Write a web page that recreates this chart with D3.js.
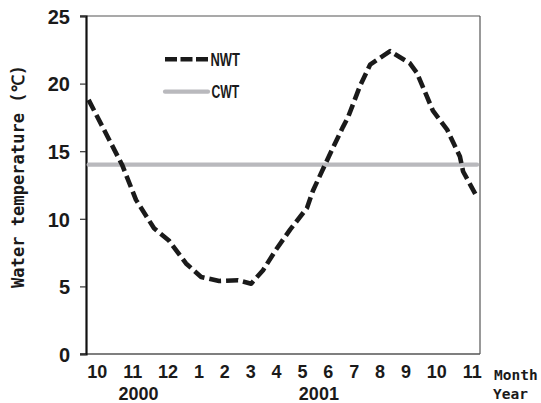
<!DOCTYPE html>
<html><head><meta charset="utf-8">
<script src="https://cdn.jsdelivr.net/npm/d3@7"></script>
<style>
html,body{margin:0;padding:0;background:#fff;}
svg{display:block;}
.num{font-family:"Liberation Sans Narrow","Liberation Sans","Arial Narrow",sans-serif;font-weight:bold;fill:#1a1a1a;}
.mono{font-family:"DejaVu Sans Mono","Liberation Mono",monospace;font-weight:bold;fill:#1a1a1a;}
</style>
</head><body>
<svg id="c" width="541" height="403"></svg>
<script>
// ---- data ----
const monthLabels = ["10","11","12","1","2","3","4","5","6","7","8","9","10","11"];
const yearLabels = ["2000","2001"];
const yearPos = [1.5, 7.7];          // in month-index units
const yTicks = [0,5,10,15,20,25];
const tMonth = [-0.22,0.93,1.41,2.03,2.54,3.13,3.65,4.27,4.92,5.37,5.78,6.22,6.71,7.29,7.50,7.91,8.15,8.53,8.70,9.11,9.46,10.15,10.83,11.07,11.62,12.11,12.55,12.66,13.14];
const nwt = [18.8,14.0,11.4,9.3,8.4,6.7,5.7,5.4,5.45,5.2,6.2,7.7,9.2,10.8,12.1,14.0,15.1,16.8,17.5,19.8,21.4,22.4,21.5,20.8,18.0,16.6,14.6,13.5,11.6];
const cwt = [14,14,14,14,14,14,14,14,14,14,14,14,14,14,14,14,14,14,14,14,14,14,14,14,14,14,14,14,14];
const seriesNames = ["NWT","CWT"];

// ---- layout ----
const svg = d3.select("#c");
const L = 86, R = 480, T = 16, B = 354;
const x = d3.scaleLinear().domain([0,13]).range([95,473]);
const y = d3.scaleLinear().domain([0,25]).range([B,T]);

// frame: top and right borders
svg.append("line").attr("x1",80).attr("x2",R).attr("y1",T).attr("y2",T).attr("stroke","#555").attr("stroke-width",1.2);
svg.append("line").attr("x1",R).attr("x2",R).attr("y1",T).attr("y2",B).attr("stroke","#555").attr("stroke-width",1.2);
// bottom axis line
svg.append("line").attr("x1",80).attr("x2",R).attr("y1",B).attr("y2",B).attr("stroke","#555").attr("stroke-width",1.6);

// y axis
const ya = svg.append("g").attr("transform",`translate(${L},0)`)
  .call(d3.axisLeft(y).tickValues(yTicks).tickSize(6).tickPadding(10).tickFormat(d3.format("d")));
ya.select(".domain").attr("stroke","#111").attr("stroke-width",2.2);
ya.selectAll(".tick line").attr("stroke","#333").attr("stroke-width",1.2);
ya.selectAll(".tick text").attr("class","num").style("font-size","20px").attr("dy","0.36em");

// lines
const line = d3.line().x((d,i)=>x(tMonth[i])).y(d=>y(d));
svg.append("path").datum(cwt).attr("d",line).attr("fill","none")
  .attr("stroke","#b9b9bd").attr("stroke-width",4.2).attr("stroke-linecap","round");
svg.append("path").datum(nwt).attr("d",line).attr("fill","none")
  .attr("stroke","#1a1a1a").attr("stroke-width",4.6).attr("stroke-dasharray","12,5").attr("stroke-linejoin","round");

// month labels laid out as flowing text
const mg = svg.append("g");
const mt = mg.selectAll("text").data(monthLabels).join("text").attr("class","num")
  .style("font-size","18px").attr("y",378).text(d=>d);
const widths = [];
mt.each(function(){widths.push(this.getComputedTextLength());});
const startX = 87.3, endX = 481.7;
const total = d3.sum(widths);
const gap = (endX-startX-total)/(monthLabels.length-1);
let cx = startX;
mt.attr("x",(d,i)=>{const v=cx; cx += widths[i]+gap; return v;});

// year labels
svg.selectAll(".yr").data(yearLabels).join("text").attr("class","num yr")
  .style("font-size","18px").attr("text-anchor","middle")
  .attr("x",(d,i)=>x(yearPos[i])).attr("y",400).text(d=>d);

// Month / Year titles
svg.append("text").attr("class","mono").style("font-size","14.5px").attr("x",494).attr("y",380)
  .text("Month");
svg.append("text").attr("class","mono").style("font-size","14.5px").attr("x",493).attr("y",399)
  .text("Year");

// y title
svg.append("text").attr("class","mono").style("font-size","17px")
  .attr("transform","translate(24,288) rotate(-90)").attr("x",0).attr("y",0)
  .attr("textLength",223).attr("lengthAdjust","spacingAndGlyphs")
  .text("Water temperature  (℃)");

// legend
const lg = svg.append("g");
const legY = [59.3, 91.7];
lg.selectAll("line").data(seriesNames).join("line")
  .attr("x1",165).attr("x2",208).attr("y1",(d,i)=>legY[i]).attr("y2",(d,i)=>legY[i])
  .attr("stroke",(d,i)=>i===0?"#1a1a1a":"#b9b9bd")
  .attr("stroke-width",(d,i)=>i===0?4.6:4.2)
  .attr("stroke-dasharray",(d,i)=>i===0?"12,3.5":null)
  .attr("stroke-linecap",(d,i)=>i===0?"butt":"round");
lg.selectAll("text").data(seriesNames).join("text").attr("class","num")
  .style("font-size","18px").attr("x",(d,i)=>i===0?210.5:211.5).attr("y",(d,i)=>legY[i]+6.5)
  .attr("textLength",(d,i)=>i===0?29.5:27.8).attr("lengthAdjust","spacingAndGlyphs").text(d=>d);
</script>
</body></html>
